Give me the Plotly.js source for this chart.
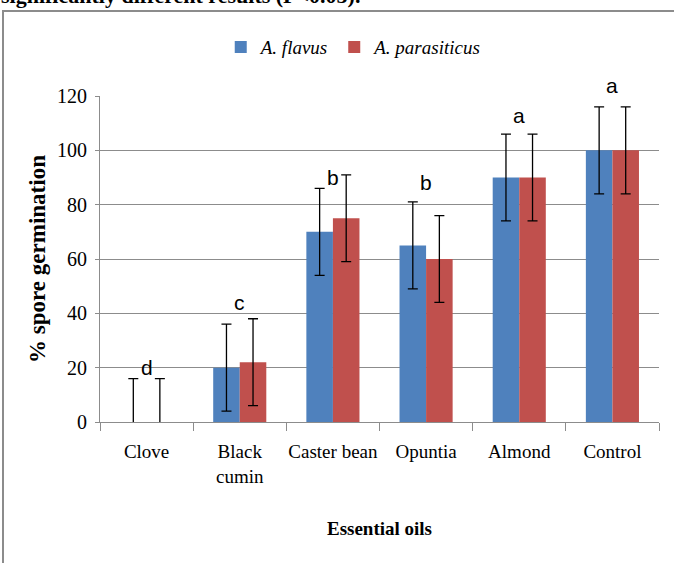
<!DOCTYPE html>
<html>
<head>
<meta charset="utf-8">
<script src="https://cdn.plot.ly/plotly-3.0.1.min.js"></script>
<style>
  html, body { margin: 0; padding: 0; background: #fff; width: 674px; height: 563px; overflow: hidden; }
  #wrap { position: relative; width: 674px; height: 563px; }
  #chart { position: absolute; left: 0; top: 0; width: 674px; height: 563px; }
  #frame { position: absolute; left: 2px; top: 10px; width: 700px; height: 600px;
           border-left: 2px solid #8c8c8c; border-top: 2px solid #8c8c8c; pointer-events: none; }
  #caption { position: absolute; left: 1px; top: -15px; z-index: 5; font-family: "Liberation Serif", "Times New Roman", serif;
             font-weight: bold; font-size: 22px; white-space: nowrap; color: #000; line-height: 22px; }
</style>
</head>
<body>
<div id="wrap">
  <div id="chart"></div>
  <div id="frame"></div>
  <div id="caption">significantly different results (P&lt;0.05).</div>
</div>
<script>
// Data
const categories = ["Clove", "Black<br>cumin", "Caster bean", "Opuntia", "Almond", "Control"];
const seriesNames = ["A. flavus", "A. parasiticus"];
const flavus = [0, 20, 70, 65, 90, 100];
const parasiticus = [0, 22, 75, 60, 90, 100];
const flavusErr = [16, 16, 16, 16, 16, 16];
const parasiticusErr = [16, 16, 16, 16, 16, 16];
const letters = ["d", "c", "b", "b", "a", "a"];
const letterHeights = [20, 44, 90, 88, 113, 124];
const yRange = [0, 120];
const yTicks = [0, 20, 40, 60, 80, 100, 120];

const serif = "Liberation Serif, Times New Roman, serif";

const errStyle = { type: "data", visible: true, color: "#000", thickness: 1.3, width: 5 };

const traces = [
  {
    type: "bar", name: seriesNames[0], x: categories, y: flavus,
    marker: { color: "#4F81BD", line: { width: 0 } },
    error_y: Object.assign({ array: flavusErr }, errStyle),
    hoverinfo: "skip"
  },
  {
    type: "bar", name: seriesNames[1], x: categories, y: parasiticus,
    marker: { color: "#C0504D", line: { width: 0 } },
    error_y: Object.assign({ array: parasiticusErr }, errStyle),
    hoverinfo: "skip"
  }
];

// letters placed in paper space (converted through the y range) so ones above the range still show
const annotations = categories.map((c, i) => ({
  x: c, y: (letterHeights[i] - yRange[0]) / (yRange[1] - yRange[0]), xref: "x", yref: "paper",
  text: letters[i], showarrow: false,
  font: { family: "Liberation Sans Narrow, Arial Narrow, Liberation Sans, sans-serif", size: 21, color: "#000" },
  yanchor: "middle"
}));

const layout = {
  width: 674, height: 563,
  margin: { l: 100, r: 15, t: 96, b: 141 },
  paper_bgcolor: "rgba(0,0,0,0)", plot_bgcolor: "#fff",
  barmode: "group", bargap: 0.43, bargroupgap: 0,
  showlegend: true,
  legend: {
    orientation: "h", x: 0.216, xanchor: "left", y: 1.15, yanchor: "middle",
    font: { family: serif, size: 19, color: "#000", style: "italic" },
    itemwidth: 30, traceorder: "normal", bgcolor: "rgba(0,0,0,0)"
  },
  xaxis: {
    type: "category",
    showline: true, linecolor: "#8c8c8c", linewidth: 1,
    ticks: "outside", tickson: "boundaries", ticklen: 8, tickcolor: "#8c8c8c",
    tickangle: 0, ticklabelstandoff: 12,
    tickfont: { family: serif, size: 19, color: "#000" },
    showgrid: false,
    title: { text: "<b>Essential oils</b>", font: { family: serif, size: 19, color: "#000" }, standoff: 36 }
  },
  yaxis: {
    range: yRange, tickvals: yTicks, ticktext: yTicks.map(String),
    showline: true, linecolor: "#8c8c8c", linewidth: 1,
    ticks: "outside", ticklen: 4, tickcolor: "#8c8c8c", ticklabelstandoff: 4,
    showgrid: true, gridcolor: "#8c8c8c", gridwidth: 1,
    zeroline: false,
    tickfont: { family: serif, size: 20, color: "#000" },
    title: { text: "<b>% spore germination</b>", font: { family: serif, size: 23, color: "#000" }, standoff: 4 }
  },
  annotations: annotations
};

Plotly.newPlot("chart", traces, layout, { displayModeBar: false, staticPlot: true });
</script>
</body>
</html>
